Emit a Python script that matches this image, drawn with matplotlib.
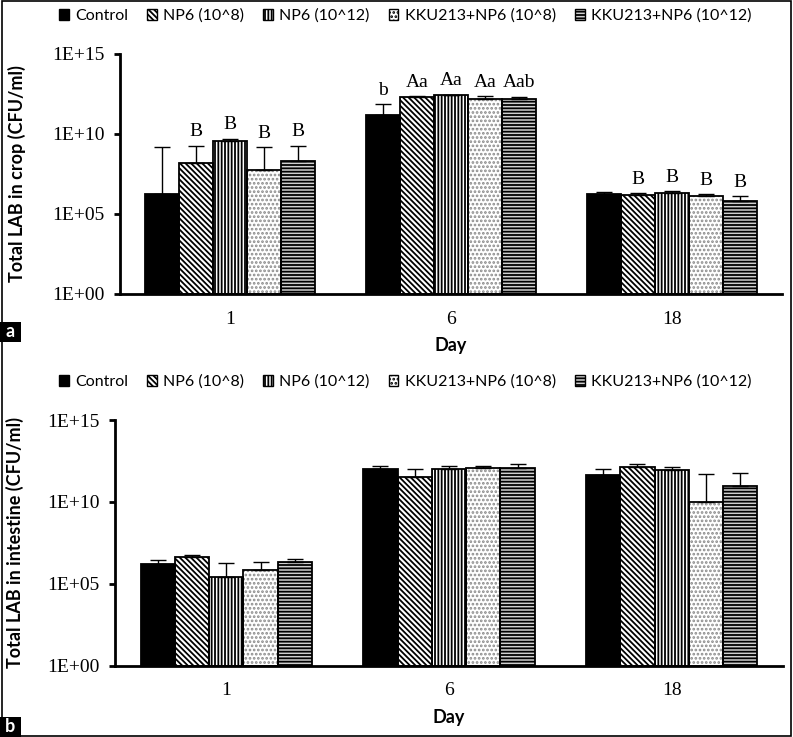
import numpy as np
import matplotlib
matplotlib.use('Agg')
import matplotlib.pyplot as plt
from matplotlib.patches import Rectangle, Patch

days = ['1', '6', '18']
groups = ['Control', 'NP6 (10^8)', 'NP6 (10^12)', 'KKU213+NP6 (10^8)', 'KKU213+NP6 (10^12)']
hatches = ['', '\\' * 6, '|' * 5, '.' * 4, '-' * 5]
faces = ['black', 'white', 'white', 'white', '#d0d0d0']
hatch_cols = ['black', 'black', 'black', '#8a8a8a', 'black']

# (a) total LAB in crop, CFU/ml, one row per group, columns = day 1, 6, 18
crop_mean = [
    [1.8e6, 1.5e11, 1.7e6],
    [1.5e8, 2.1e12, 1.5e6],
    [3.8e9, 2.6e12, 2.2e6],
    [5.9e7, 1.6e12, 1.26e6],
    [2.1e8, 1.5e12, 6.8e5],
]
crop_sd = [
    [1.5e9, 5.6e11, 6.7e5],
    [1.65e9, 1.4e11, 4.5e5],
    [1.2e9, 2.0e11, 4.3e5],
    [1.44e9, 7.4e11, 4.4e5],
    [1.6e9, 5.4e11, 5.8e5],
]
crop_letters = [
    ['', 'b', ''],
    ['B', 'Aa', 'B'],
    ['B', 'Aa', 'B'],
    ['B', 'Aa', 'B'],
    ['B', 'Aab', 'B'],
]

# (b) total LAB in intestine, CFU/ml
int_mean = [
    [1.6e6, 1.02e12, 4.6e11],
    [4.2e6, 3.5e11, 1.41e12],
    [2.7e5, 1.07e12, 8.9e11],
    [6.9e5, 1.17e12, 1.0e10],
    [2.2e6, 1.23e12, 9.3e10],
]
int_sd = [
    [1.35e6, 6.0e11, 5.6e11],
    [1.8e6, 6.5e11, 5.9e11],
    [1.68e6, 5.5e11, 4.0e11],
    [1.35e6, 4.5e11, 5.1e11],
    [1.2e6, 7.7e11, 5.1e11],
]

serif = 'Liberation Serif'
sans = 'Lato'
plt.rcParams['hatch.linewidth'] = 1.3

fig = plt.figure(figsize=(7.93, 7.37), dpi=100)
ax_a = fig.add_axes([120 / 793, 1 - 294 / 737, 662 / 793, 240 / 737])
ax_b = fig.add_axes([115 / 793, 1 - 665.7 / 737, 668 / 793, 245.7 / 737])


def draw_panel(ax, mean, sd, letters, ylabel, label_x):
    x = np.arange(len(days)) + 0.5
    w = 0.154
    for i, g in enumerate(groups):
        xs = x + (i - 2) * w
        # hatch takes the edge colour, so fill + hatch first, black outline on top
        ax.bar(xs, mean[i], w, bottom=1, color=faces[i], edgecolor=hatch_cols[i],
               hatch=hatches[i], linewidth=0, zorder=2)
        ax.bar(xs, mean[i], w, bottom=1, fill=False, edgecolor='black',
               linewidth=1.3, zorder=2.5)
        ax.errorbar(xs, mean[i], yerr=[np.zeros(3), sd[i]], fmt='none',
                    ecolor='black', elinewidth=1, capsize=6, capthick=1, zorder=3)
        if letters is not None:
            for j in range(len(days)):
                if letters[i][j]:
                    ax.annotate(letters[i][j], (xs[j], mean[i][j] + sd[i][j]),
                                xytext=(0, 4), textcoords='offset points',
                                ha='center', va='bottom', fontsize=14, family=serif)
    ax.set_yscale('log')
    ax.set_ylim(1, 1e15)
    ax.set_xlim(0, 3)
    ax.set_yticks([1, 1e5, 1e10, 1e15])
    ax.set_yticklabels(['1E+00', '1E+05', '1E+10', '1E+15'], family=serif, fontsize=14)
    ax.minorticks_off()
    ax.set_xticks(x)
    ax.set_xticklabels(days, family=serif, fontsize=14)
    ax.tick_params(axis='x', length=0, pad=12)
    ax.tick_params(axis='y', length=4, width=2, pad=7)
    for s in ['top', 'right']:
        ax.spines[s].set_visible(False)
    for s in ['left', 'bottom']:
        ax.spines[s].set_linewidth(2)
    ax.set_xlabel('Day', family=sans, fontweight='bold', fontsize=13, labelpad=7)
    ax.set_ylabel(ylabel, family=sans, fontweight='bold', fontsize=13)
    ax.yaxis.set_label_coords(label_x, 0.5)


draw_panel(ax_a, crop_mean, crop_sd, crop_letters, 'Total LAB in crop (CFU/ml)', -0.142)
draw_panel(ax_b, int_mean, int_sd, None, 'Total LAB in intestine (CFU/ml)', -0.136)

handles = [Patch(facecolor=faces[i], edgecolor='black', hatch=hatches[i], linewidth=1)
           for i in range(len(groups))]
for ax, ly in [(ax_a, 1 - 16 / 737), (ax_b, 1 - 382 / 737)]:
    ax.legend(handles, groups, loc='center', bbox_to_anchor=(0.511, ly),
              bbox_transform=fig.transFigure, ncol=5, frameon=False,
              handlelength=0.6, handleheight=0.6, handletextpad=0.4, columnspacing=1.2,
              prop={'family': sans, 'size': 11.5})

# outer frame and panel tags
fig.patches.append(Rectangle((2 / 793, 1.3 / 737), 789 / 793, 735 / 737, transform=fig.transFigure,
                             fill=False, edgecolor='black', linewidth=1.2))
for tag, y0 in [('a', 395), ('b', 0)]:
    fig.patches.append(Rectangle((0, y0 / 737), 21 / 793, 20 / 737, transform=fig.transFigure,
                                 facecolor='black', edgecolor='none'))
    fig.text(10.5 / 793, (y0 + 10) / 737, tag, color='white', ha='center', va='center',
             family=sans, fontweight='bold', fontsize=13)

fig.savefig('out.png', dpi=100)
